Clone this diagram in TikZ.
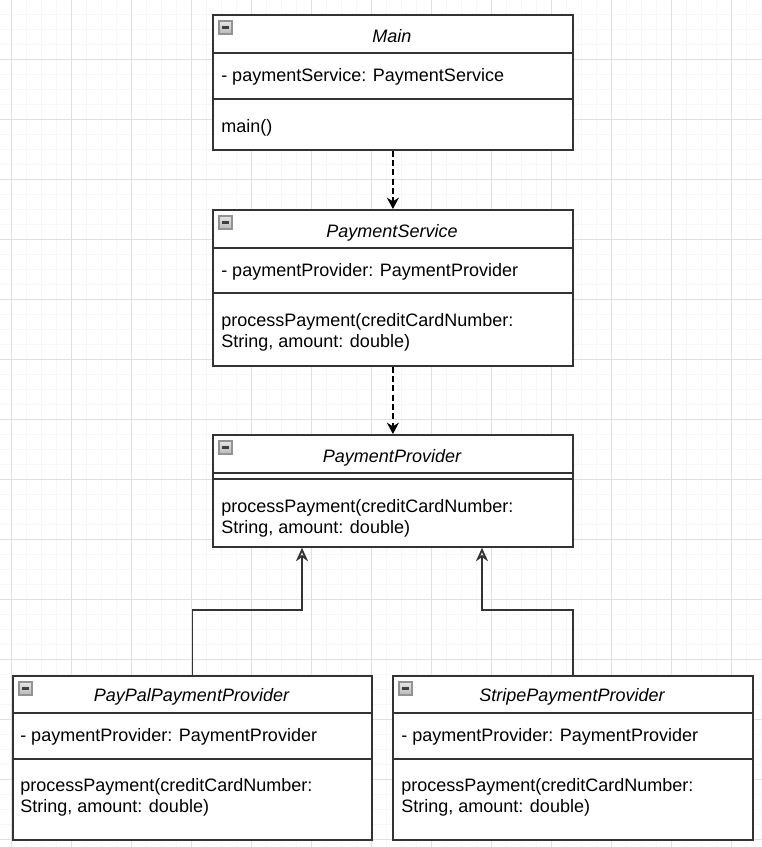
\documentclass[tikz,border=0pt]{standalone}
\usepackage{fontspec}
\setmainfont{Liberation Sans}
\usetikzlibrary{arrows.meta}

\begin{document}
\begin{tikzpicture}[x=0.75pt,y=-0.75pt,
 box/.style={draw=black!80,line width=1.35pt,fill=white,inner sep=0pt,anchor=north west},
 sep/.style={draw=black!80,line width=1.35pt},
 txt/.style={font=\fontsize{13.5}{16.1}\selectfont,inner sep=0pt,anchor=west,align=left},
 classname/.style={txt,anchor=center,font=\fontsize{13.5}{16.1}\selectfont\itshape},
 dep/.style={draw=black,line width=1.35pt,dash pattern=on 4.5pt off 2.5pt,-{Stealth[length=8.5pt,width=9pt]}},
 inh/.style={draw=black!80,line width=1.35pt,-{Stealth[open,length=10pt,width=9pt,inset=3pt]}},
 minorgrid/.style={draw=black!3,line width=0.75pt},
 majorgrid/.style={draw=black!12,line width=0.75pt},
 ]
 \useasboundingbox[fill=white] (0,0) rectangle (762,847);
 % grid
 \foreach \x in {11,26,...,761} \draw[minorgrid] (\x,0) -- (\x,847);
 \foreach \y in {14,29,...,846} \draw[minorgrid] (0,\y) -- (762,\y);
 \foreach \x in {11,71,...,731} \draw[majorgrid] (\x,0) -- (\x,847);
 \foreach \y in {59,119,...,839} \draw[majorgrid] (0,\y) -- (762,\y);

 % Main
 \node[box,minimum width=270pt,minimum height=101.25pt] (main) at (212,14) {};
 \draw[sep] (212,53) -- (572,53) (212,99) -- (572,99);
 \node[classname] (main-name) at (392,36.5) {Main};
 \node[txt] (main-attr) at (221,76.5) {- paymentService: PaymentService};
 \node[txt] (main-ops) at (221,128) {main()};

 % PaymentService
 \node[box,minimum width=270pt,minimum height=117pt] (service) at (212,209) {};
 \draw[sep] (212,248) -- (572,248) (212,293) -- (572,293);
 \node[classname] (service-name) at (392,232.5) {PaymentService};
 \node[txt] (service-attr) at (221,271.5) {- paymentProvider: PaymentProvider};
 \node[txt] (service-ops) at (221,332.5) {processPayment(creditCardNumber:\\String, amount: double)};

 % PaymentProvider
 \node[box,minimum width=270pt,minimum height=84pt] (provider) at (212,434) {};
 \draw[sep] (212,473) -- (572,473) (212,479) -- (572,479);
 \node[classname] (provider-name) at (392,457.5) {PaymentProvider};
 \node[txt] (provider-ops) at (221,518.5) {processPayment(creditCardNumber:\\String, amount: double)};

 % PayPalPaymentProvider
 \node[box,minimum width=269.25pt,minimum height=123pt] (paypal) at (12,675) {};
 \draw[sep] (12,713) -- (371,713) (12,759) -- (371,759);
 \node[classname] (paypal-name) at (191.5,696.5) {PayPalPaymentProvider};
 \node[txt] (paypal-attr) at (20,736.5) {- paymentProvider: PaymentProvider};
 \node[txt] (paypal-ops) at (20,797.5) {processPayment(creditCardNumber:\\String, amount: double)};

 % StripePaymentProvider
 \node[box,minimum width=270pt,minimum height=123pt] (stripe) at (392,675) {};
 \draw[sep] (392,713) -- (752,713) (392,759) -- (752,759);
 \node[classname] (stripe-name) at (572,696.5) {StripePaymentProvider};
 \node[txt] (stripe-attr) at (401,736.5) {- paymentProvider: PaymentProvider};
 \node[txt] (stripe-ops) at (401,797.5) {processPayment(creditCardNumber:\\String, amount: double)};

 % collapse icons
 \foreach \ix/\iy in {212/14,212/209,212/434,12/675,392/675} {
  \shade[top color=gray!20,bottom color=gray!55,draw=gray!85,line width=0.9pt]
   ({\ix+7},{\iy+7}) rectangle ++(13,13);
  \draw[black!75,line width=1.6pt] ({\ix+10},{\iy+13.5}) -- ++(7,0);
 }

 % connectors
 \draw[dep] (main.south) -- (service.north);
 \draw[dep] (service.south) -- (provider.north);
 \coordinate (bend1) at (302,610);
 \coordinate (bend2) at (482,610);
 \draw[inh] (paypal.north) |- (bend1) -- (bend1 |- provider.south);
 \draw[inh] (stripe.north) |- (bend2) -- (bend2 |- provider.south);
\end{tikzpicture}
\end{document}
